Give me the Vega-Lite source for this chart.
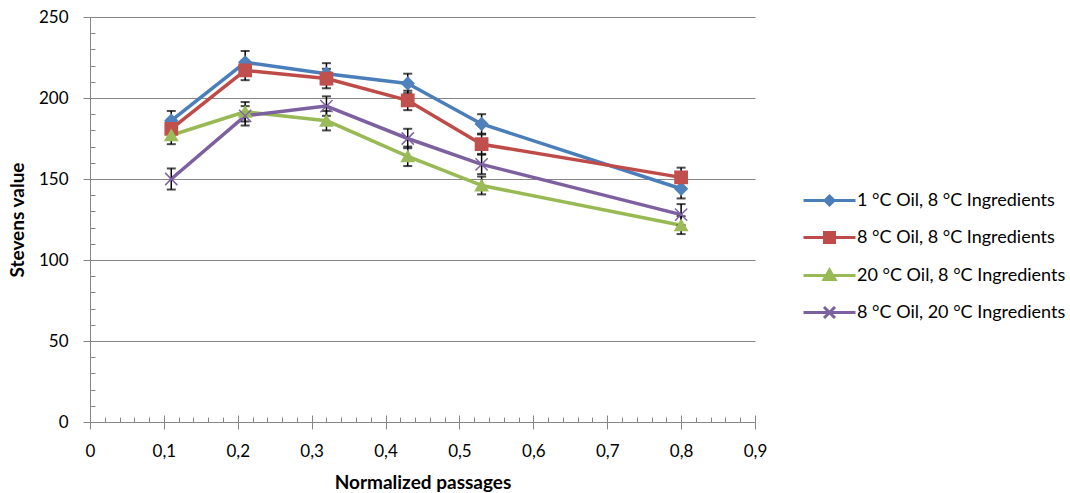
{
  "$schema": "https://vega.github.io/schema/vega-lite/v6.json",
  "width": 665,
  "height": 405,
  "autosize": {"type": "none"},
  "padding": {"left": 90, "top": 17, "right": 315, "bottom": 71},
  "background": "white",
  "config": {
    "view": {"stroke": null},
    "font": "Lato",
    "axis": {"labelFont": "Lato", "titleFont": "Lato", "labelColor": "#000", "titleColor": "#000"}
  },
  "data": {
    "values": [
      {"series": "1 °C Oil, 8 °C Ingredients", "x": 0.11, "y": 186, "err": 6},
      {"series": "1 °C Oil, 8 °C Ingredients", "x": 0.21, "y": 222, "err": 7},
      {"series": "1 °C Oil, 8 °C Ingredients", "x": 0.32, "y": 215, "err": 6.5},
      {"series": "1 °C Oil, 8 °C Ingredients", "x": 0.43, "y": 209, "err": 6},
      {"series": "1 °C Oil, 8 °C Ingredients", "x": 0.53, "y": 184, "err": 6},
      {"series": "1 °C Oil, 8 °C Ingredients", "x": 0.80, "y": 144, "err": 6},
      {"series": "8 °C Oil, 8 °C Ingredients", "x": 0.11, "y": 181, "err": 6},
      {"series": "8 °C Oil, 8 °C Ingredients", "x": 0.21, "y": 217, "err": 6},
      {"series": "8 °C Oil, 8 °C Ingredients", "x": 0.32, "y": 212, "err": 6},
      {"series": "8 °C Oil, 8 °C Ingredients", "x": 0.43, "y": 198.5, "err": 6},
      {"series": "8 °C Oil, 8 °C Ingredients", "x": 0.53, "y": 171.5, "err": 6},
      {"series": "8 °C Oil, 8 °C Ingredients", "x": 0.80, "y": 151, "err": 6},
      {"series": "20 °C Oil, 8 °C Ingredients", "x": 0.11, "y": 177, "err": 5.5},
      {"series": "20 °C Oil, 8 °C Ingredients", "x": 0.21, "y": 191.5, "err": 6},
      {"series": "20 °C Oil, 8 °C Ingredients", "x": 0.32, "y": 186, "err": 6},
      {"series": "20 °C Oil, 8 °C Ingredients", "x": 0.43, "y": 164, "err": 6},
      {"series": "20 °C Oil, 8 °C Ingredients", "x": 0.53, "y": 146, "err": 5.5},
      {"series": "20 °C Oil, 8 °C Ingredients", "x": 0.80, "y": 121.5, "err": 5.5},
      {"series": "8 °C Oil, 20 °C Ingredients", "x": 0.11, "y": 150, "err": 6.5},
      {"series": "8 °C Oil, 20 °C Ingredients", "x": 0.21, "y": 189, "err": 6},
      {"series": "8 °C Oil, 20 °C Ingredients", "x": 0.32, "y": 195, "err": 6},
      {"series": "8 °C Oil, 20 °C Ingredients", "x": 0.43, "y": 175, "err": 6},
      {"series": "8 °C Oil, 20 °C Ingredients", "x": 0.53, "y": 159, "err": 6},
      {"series": "8 °C Oil, 20 °C Ingredients", "x": 0.80, "y": 128, "err": 6.5}
    ]
  },
  "resolve": {"axis": {"x": "independent", "y": "independent"}},
  "layer": [
    {
      "mark": {"type": "line", "strokeWidth": 3.5, "strokeJoin": "round", "strokeCap": "round"},
      "encoding": {
        "x": {
          "field": "x", "type": "quantitative",
          "scale": {"domain": [0, 0.9], "nice": false, "zero": false},
          "axis": {
            "orient": "bottom",
            "values": [0, 0.1, 0.2, 0.3, 0.4, 0.5, 0.6, 0.7, 0.8, 0.9],
            "labelExpr": "replace(format(datum.value, '.1~f'), '.', ',')",
            "grid": false,
            "domainColor": "#868686", "domainWidth": 1,
            "tickColor": "#868686", "tickSize": 7, "tickWidth": 1,
            "labelFontSize": 17, "labelPadding": 14, "labelFlush": false, "labelOverlap": false,
            "title": "Normalized passages", "titleFontSize": 19, "titleFontWeight": "bold", "titlePadding": 14
          }
        },
        "y": {
          "field": "y", "type": "quantitative",
          "scale": {"domain": [0, 250], "nice": false},
          "axis": {
            "orient": "left",
            "values": [0, 50, 100, 150, 200, 250],
            "grid": true, "gridColor": "#868686", "gridWidth": 1,
            "domainColor": "#868686", "domainWidth": 1,
            "tickColor": "#868686", "tickSize": 7, "tickWidth": 1,
            "labelFontSize": 17, "labelPadding": 15, "labelFlush": false, "labelOverlap": false,
            "title": "Stevens value", "titleFontSize": 19, "titleFontWeight": "bold", "titlePadding": 11
          }
        },
        "color": {
          "field": "series", "type": "nominal",
          "scale": {
            "domain": ["1 °C Oil, 8 °C Ingredients", "8 °C Oil, 8 °C Ingredients", "20 °C Oil, 8 °C Ingredients", "8 °C Oil, 20 °C Ingredients"],
            "range": ["#4A7EBB", "#BE4B48", "#98B954", "#7D60A0"]
          },
          "legend": {
            "orient": "none", "legendX": 728, "legendY": 172,
            "title": null,
            "symbolSize": 400, "symbolStrokeWidth": 3,
            "rowPadding": 15, "labelOffset": 16, "labelLimit": 400,
            "labelFont": "Lato", "labelFontSize": 18, "labelColor": "#000", "padding": 0,
            "encoding": {
              "symbols": {
                "shape": {"value": {"expr": "datum.value === '1 °C Oil, 8 °C Ingredients' ? 'M-2.6,0L2.6,0M0,-0.45L0.45,0L0,0.45L-0.45,0Z' : datum.value === '8 °C Oil, 8 °C Ingredients' ? 'M-2.6,0L2.6,0M-0.5,-0.5L0.5,-0.5L0.5,0.5L-0.5,0.5Z' : datum.value === '20 °C Oil, 8 °C Ingredients' ? 'M-2.6,0L2.6,0M0,-0.55L0.55,0.4L-0.55,0.4Z' : 'M-2.6,0L2.6,0M-0.55,-0.55L0.55,0.55M-0.55,0.55L0.55,-0.55'"}},
                "fill": {"value": {"expr": "scale('color', datum.value)"}},
                "stroke": {"value": {"expr": "scale('color', datum.value)"}},
                "strokeWidth": {"value": 3},
                "opacity": {"value": 1}
              }
            }
          }
        }
      }
    },
    {
      "mark": {"type": "errorbar", "ticks": {"size": 9, "thickness": 2, "color": "black"}, "rule": {"color": "black", "strokeWidth": 1.5}},
      "encoding": {
        "x": {
          "field": "x", "type": "quantitative",
          "axis": {
            "orient": "bottom",
            "values": [0, 0.1, 0.2, 0.3, 0.4, 0.5, 0.6, 0.7, 0.8, 0.9],
            "labels": false, "domain": false, "grid": false,
            "tickColor": "#868686", "tickSize": -7, "tickWidth": 1, "title": null
          }
        },
        "y": {"field": "y", "type": "quantitative", "axis": null},
        "yError": {"field": "err"}
      }
    },
    {
      "transform": [{"filter": "datum.series === '1 °C Oil, 8 °C Ingredients'"}],
      "mark": {"type": "point", "shape": "diamond", "filled": true, "opacity": 1, "strokeWidth": 1.5, "size": 150, "fill": "#4F81BD", "stroke": "#4F81BD"},
      "encoding": {
        "x": {
          "field": "x", "type": "quantitative",
          "axis": {
            "orient": "bottom",
            "values": [0.02, 0.04, 0.06, 0.08, 0.12, 0.14, 0.16, 0.18, 0.22, 0.24, 0.26, 0.28, 0.32, 0.34, 0.36, 0.38, 0.42, 0.44, 0.46, 0.48, 0.52, 0.54, 0.56, 0.58, 0.62, 0.64, 0.66, 0.68, 0.72, 0.74, 0.76, 0.78, 0.82, 0.84, 0.86, 0.88],
            "labels": false, "domain": false, "grid": false,
            "tickColor": "#868686", "tickSize": -5, "tickWidth": 1, "title": null
          }
        },
        "y": {
          "field": "y", "type": "quantitative",
          "axis": {
            "orient": "left",
            "values": [10, 20, 30, 40, 60, 70, 80, 90, 110, 120, 130, 140, 160, 170, 180, 190, 210, 220, 230, 240],
            "labels": false, "domain": false, "grid": false,
            "tickColor": "#868686", "tickSize": -5, "tickWidth": 1, "title": null
          }
        }
      }
    },
    {
      "transform": [{"filter": "datum.series === '8 °C Oil, 8 °C Ingredients'"}],
      "mark": {"type": "point", "shape": "square", "filled": true, "opacity": 1, "strokeWidth": 1.5, "size": 150, "fill": "#C0504D", "stroke": "#C0504D"},
      "encoding": {
        "x": {"field": "x", "type": "quantitative", "axis": null},
        "y": {"field": "y", "type": "quantitative", "axis": null}
      }
    },
    {
      "transform": [{"filter": "datum.series === '20 °C Oil, 8 °C Ingredients'"}],
      "mark": {"type": "point", "shape": "triangle-up", "filled": true, "opacity": 1, "strokeWidth": 1.5, "size": 150, "fill": "#9BBB59", "stroke": "#9BBB59"},
      "encoding": {
        "x": {"field": "x", "type": "quantitative", "axis": null},
        "y": {"field": "y", "type": "quantitative", "axis": null}
      }
    },
    {
      "transform": [{"filter": "datum.series === '8 °C Oil, 20 °C Ingredients'"}],
      "mark": {"type": "point", "shape": "M-1,-1L1,1M-1,1L1,-1", "filled": true, "opacity": 1, "strokeWidth": 1.5, "size": 150, "fill": "#8064A2", "stroke": "#8064A2"},
      "encoding": {
        "x": {"field": "x", "type": "quantitative", "axis": null},
        "y": {"field": "y", "type": "quantitative", "axis": null}
      }
    }
  ]
}
